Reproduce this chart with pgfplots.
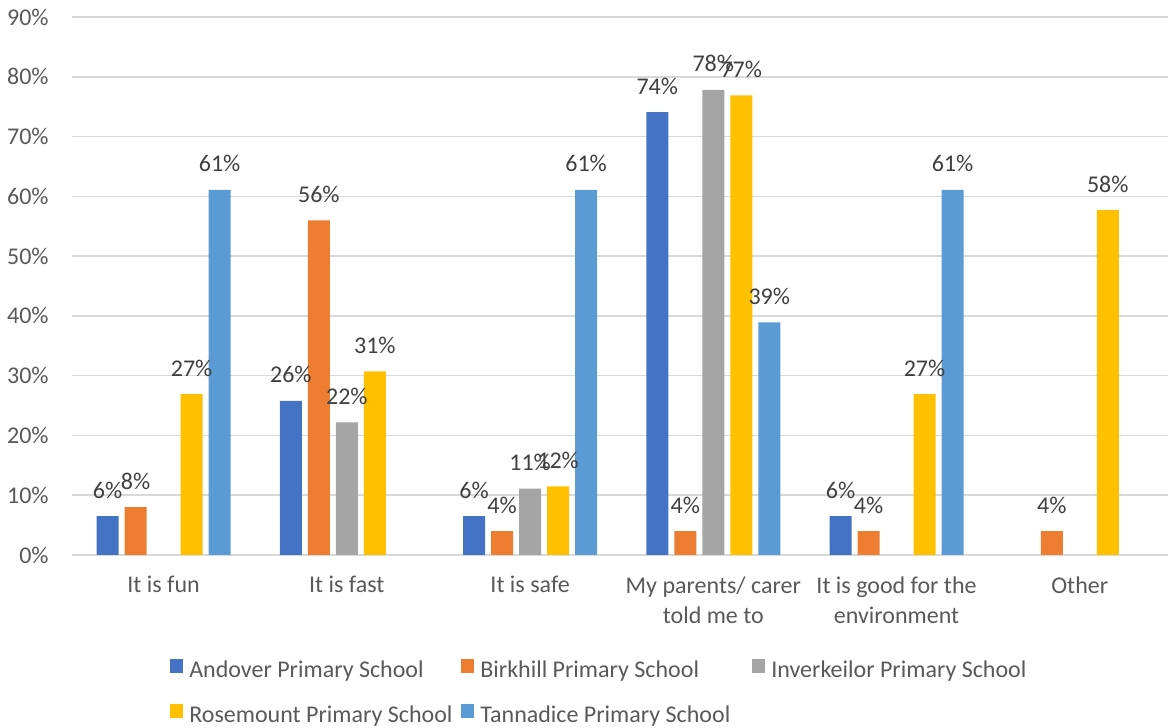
\documentclass[border=0pt]{standalone}
\usepackage{pgfplots}
\pgfplotsset{compat=1.18}
\usepackage{fontspec}
\setmainfont{Carlito}
\definecolor{cA}{HTML}{4472C4}
\definecolor{cB}{HTML}{ED7D31}
\definecolor{cI}{HTML}{A5A5A5}
\definecolor{cR}{HTML}{FFC000}
\definecolor{cT}{HTML}{5B9BD5}
\definecolor{txt}{HTML}{595959}
\definecolor{lab}{HTML}{404040}
\definecolor{grd}{HTML}{D9D9D9}
\newcommand{\legtxt}[1]{\makebox[136pt][l]{#1}}
\begin{document}
\begin{tikzpicture}
\useasboundingbox (-36pt,-86.5pt) rectangle (548pt,277.5pt);
\begin{axis}[
  at={(0,0)}, anchor=south west,
  scale only axis, width=549.7pt, height=269pt,
  xmin=-0.5, xmax=5.5, ymin=0, ymax=90,
  xtick={0,1,2,3,4,5},
  xticklabels={{It is fun},{It is fast},{It is safe},{My parents/ carer\\told me to},{It is good for the\\environment},{Other}},
  ytick={0,10,...,90},
  yticklabel={\pgfmathprintnumber{\tick}\%},
  /pgf/number format/assume math mode=true,
  major tick length=0pt,
  axis x line*=bottom, axis y line*=left,
  x axis line style={draw=grd, line width=0.75pt},
  y axis line style={draw=none},
  ymajorgrids, grid style={draw=grd, line width=0.75pt},
  tick label style={font=\fontsize{12}{14}\selectfont, text=txt},
  yticklabel style={anchor=east, inner sep=0pt, xshift=-11.5pt},
  xticklabel style={anchor=north, inner sep=0pt, yshift=-10.5pt, align=center, font=\fontsize{12}{15}\selectfont},
  nodes near coords={\pgfplotspointmeta\%},
  point meta=explicit symbolic,
  every node near coord/.append style={anchor=base, yshift=9pt, inner sep=0pt, font=\fontsize{12}{14}\selectfont, text=lab},
  legend columns=3,
  legend image code/.code={\fill[#1] (0pt,-0.3pt) rectangle (6.5pt,6.7pt);},
  legend style={draw=none, fill=none, at={(axis description cs:0.0891,-0.1933)}, anchor=north west,
    inner sep=0pt, row sep=10pt, column sep=0pt,
    font=\fontsize{12}{14}\selectfont, text=txt,
    nodes={inner xsep=0pt, inner ysep=0pt, text height=8pt, text depth=3pt},
    /tikz/every odd column/.append style={column sep=3pt}},
  clip=false,
]
\addplot[ybar, bar width=11pt, bar shift=-28pt, fill=cA, draw=none,
  nodes near coords style={xshift=-28pt}] table[meta=l] {
x y l
0 6.5 6
1 25.8 26
2 6.5 6
3 74.1 74
4 6.5 6
};
\addlegendentry{\legtxt{Andover Primary School}}
\addplot[ybar, bar width=11pt, bar shift=-14pt, fill=cB, draw=none,
  nodes near coords style={xshift=-14pt}] table[meta=l] {
x y l
0 8.0 8
1 56.0 56
2 4.0 4
3 4.0 4
4 4.0 4
5 4.0 4
};
\addlegendentry{\legtxt{Birkhill Primary School}}
\addplot[ybar, bar width=11pt, bar shift=0pt, fill=cI, draw=none] table[meta=l] {
x y l
1 22.2 22
2 11.1 11
3 77.8 78
};
\addlegendentry{\legtxt{Inverkeilor Primary School}}
\addplot[ybar, bar width=11pt, bar shift=14pt, fill=cR, draw=none,
  nodes near coords style={xshift=14pt}] table[meta=l] {
x y l
0 26.9 27
1 30.7 31
2 11.5 12
3 76.9 77
4 26.9 27
5 57.7 58
};
\addlegendentry{\legtxt{Rosemount Primary School}}
\addplot[ybar, bar width=11pt, bar shift=28pt, fill=cT, draw=none,
  nodes near coords style={xshift=28pt}] table[meta=l] {
x y l
0 61.1 61
2 61.1 61
3 38.9 39
4 61.1 61
};
\addlegendentry{\legtxt{Tannadice Primary School}}
\end{axis}
\end{tikzpicture}
\end{document}
